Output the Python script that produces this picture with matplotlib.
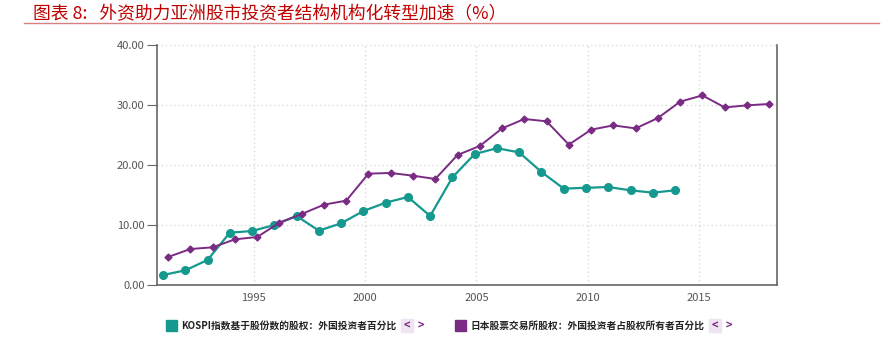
import matplotlib
matplotlib.use('Agg')
import matplotlib.pyplot as plt
from matplotlib.patches import Rectangle
from matplotlib.lines import Line2D

plt.rcParams['font.family'] = ['Noto Sans CJK SC', 'DejaVu Sans']

# data
kospi_years = list(range(1991, 2015))
kospi_vals = [1.67, 2.44, 4.17, 8.72, 9.0, 10.0, 11.5, 9.06, 10.28, 12.33,
              13.72, 14.67, 11.5, 17.94, 21.83, 22.8, 22.1, 18.83, 16.06, 16.2,
              16.33, 15.78, 15.39, 15.78]
japan_years = list(range(1991, 2019))
japan_vals = [4.67, 6.0, 6.28, 7.61, 8.0, 10.39, 11.83, 13.39, 14.06, 18.56,
              18.67, 18.22, 17.67, 21.67, 23.17, 26.1, 27.67, 27.28, 23.39, 25.89,
              26.6, 26.1, 27.83, 30.56, 31.6, 29.6, 29.94, 30.17]
yticks = [0, 10, 20, 30, 40]
xticks = [1995, 2000, 2005, 2010, 2015]

title = '图表 8:   外资助力亚洲股市投资者结构机构化转型加速（%）'
label_kospi = 'KOSPI指数基于股份数的股权：外国投资者百分比'
label_japan = '日本股票交易所股权：外国投资者占股权所有者百分比'

teal = '#15998f'
purple = '#7a2b84'
red = '#c00000'

fig = plt.figure(figsize=(8.84, 3.64), dpi=100)

# header
fig.text(0.037, 0.962, title, color=red, fontsize=12.8, style='italic',
         va='center', ha='left')
fig.add_artist(Line2D([0.027, 0.994], [0.937, 0.937], color='#d88080', lw=1))

ax = fig.add_axes([157 / 884, 1 - 285 / 364, 620 / 884, 240 / 364])
# dates in the source are offset within the year (teal ~Dec, purple ~Feb)
ax.plot([y - 0.08 for y in kospi_years], kospi_vals, color=teal, lw=1.6,
        marker='o', ms=5.5, zorder=3)
ax.plot([y + 0.15 for y in japan_years], japan_vals, color=purple, lw=1.4,
        marker='D', ms=3.5, zorder=3)

ax.set_xlim(1990.65, 2018.5)
ax.set_ylim(0, 40)
ax.set_yticks(yticks)
ax.set_yticklabels(['%.2f' % v for v in yticks])
ax.set_xticks(xticks)
ax.grid(True, color='#dadada', ls=(0, (1, 2)), lw=1)
ax.set_axisbelow(True)
for s in ['left', 'bottom', 'right']:
    ax.spines[s].set_color('#666666')
    ax.spines[s].set_linewidth(1.2)
ax.spines['top'].set_visible(False)
ax.tick_params(axis='y', length=7, color='#666666', labelsize=8,
               labelcolor='#555555', pad=2)
ax.tick_params(axis='x', length=0, labelsize=8, labelcolor='#555555', pad=6)

# legend drawn by hand to mimic the source widget
def legend_item(x, color, text):
    fig.add_artist(Rectangle((x / 884, 1 - 331 / 364), 11 / 884, 11 / 364,
                             transform=fig.transFigure, color=color))
    t = fig.text((x + 15) / 884, 1 - 326 / 364, text, fontsize=7,
                 va='center', ha='left', color='#222222', weight='bold')
    return t

fig.canvas.draw()
r = fig.canvas.get_renderer()
for x, c, lab in [(166, teal, label_kospi), (455, purple, label_japan)]:
    t = legend_item(x, c, lab)
    bb = t.get_window_extent(r)
    x1 = bb.x1 / 884
    fig.add_artist(Rectangle((x1 + 5 / 884, 1 - 332 / 364), 12 / 884, 13 / 364,
                             transform=fig.transFigure, color='#efe4f1'))
    fig.text(x1 + 11 / 884, 1 - 326 / 364, '<', fontsize=8, color=purple,
             ha='center', va='center', weight='bold')
    fig.text(x1 + 25 / 884, 1 - 326 / 364, '>', fontsize=8, color=purple,
             ha='center', va='center', weight='bold')

fig.savefig('out.png', dpi=100)
